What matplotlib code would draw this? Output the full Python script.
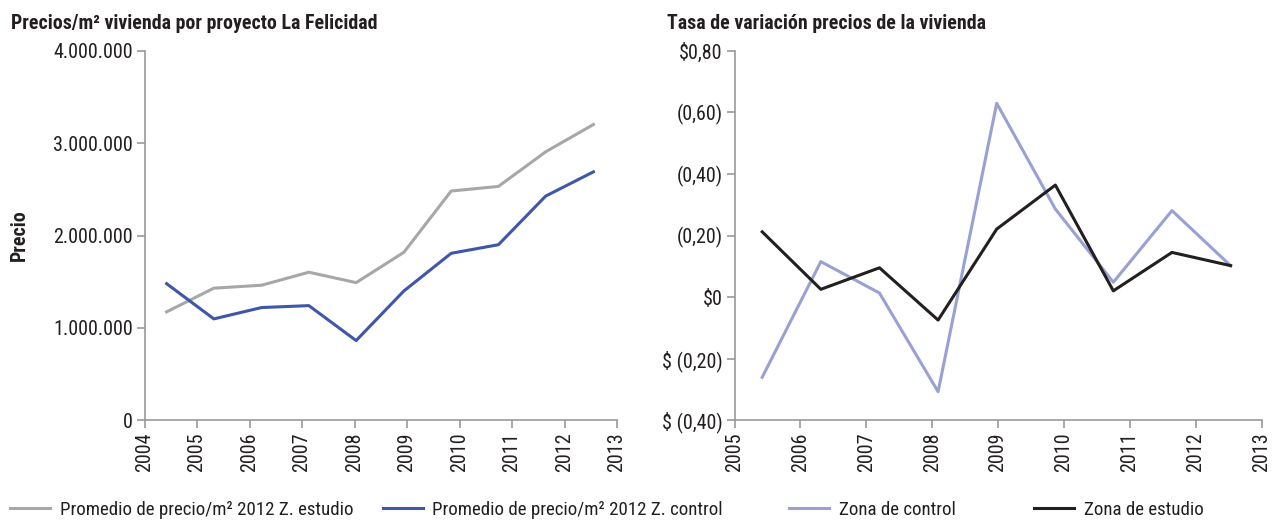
import matplotlib
matplotlib.use("Agg")
import matplotlib.pyplot as plt
from matplotlib.lines import Line2D
from matplotlib import font_manager

# buscar una fuente estrecha si existe
estrechas = [f for f in font_manager.fontManager.ttflist
             if 'Narrow' in f.name or 'Condensed' in f.name
             or f.stretch in ('condensed', 'semi-condensed', 'extra-condensed')]
nombres = [f.name for f in estrechas]
FUENTE = None
for pref in ['Liberation Sans Narrow', 'Roboto Condensed', 'Open Sans Condensed', 'Noto Sans', 'Roboto', 'Open Sans']:
    if pref in nombres:
        FUENTE = pref
        break
if FUENTE is None and nombres:
    FUENTE = nombres[0]

if FUENTE:
    plt.rcParams['font.family'] = [FUENTE, 'Liberation Sans', 'DejaVu Sans']
    cand = [f.stretch for f in estrechas if f.name == FUENTE]
    if 'Narrow' not in FUENTE and 'Condensed' not in FUENTE and cand:
        plt.rcParams['font.stretch'] = cand[0]
    TAM = 14.5
    TAM_L = 13.6
    TAM_T = 14.3
else:
    plt.rcParams['font.family'] = ['Liberation Sans', 'DejaVu Sans']
    TAM = 11.5
    TAM_L = 12
    TAM_T = 12

# Datos
anios_precio = [2004.42, 2005.32, 2006.23, 2007.13, 2008.03, 2008.94, 2009.84, 2010.74, 2011.64, 2012.55]
precio_estudio = [1172000, 1429000, 1461000, 1602000, 1489000, 1818000, 2482000, 2532000, 2907000, 3203000]
precio_control = [1478000, 1096000, 1219000, 1240000, 861000, 1399000, 1807000, 1900000, 2427000, 2690000]

anios_tasa = [2005.42, 2006.31, 2007.20, 2008.09, 2008.98, 2009.87, 2010.75, 2011.64, 2012.53]
tasa_control = [-0.261, 0.115, 0.013, -0.308, 0.630, 0.286, 0.048, 0.281, 0.102]
tasa_estudio = [0.212, 0.025, 0.095, -0.075, 0.221, 0.364, 0.020, 0.145, 0.102]

ticks_precio = [0, 1000000, 2000000, 3000000, 4000000]
etiquetas_precio = ['0', '1.000.000', '2.000.000', '3.000.000', '4.000.000']
ticks_tasa = [-0.4, -0.2, 0.0, 0.2, 0.4, 0.6, 0.8]
etiquetas_tasa = ['$ (0,40)', '$ (0,20)', '$0', '(0,20)', '(0,40)', '(0,60)', '$0,80']

GRIS = '#a7a7a7'
AZUL = '#3f57a8'
LILA = '#99a1d4'
NEGRO = '#231f20'
EJE = '#999999'
TEXTO = '#231f20'

fig = plt.figure(figsize=(12.77, 5.22), dpi=100)
ax1 = fig.add_axes([0.1132, 0.1954, 0.370, 0.7069])
ax2 = fig.add_axes([0.5752, 0.1954, 0.4127, 0.7069])


def estilo(ax):
    for s in ['top', 'right']:
        ax.spines[s].set_visible(False)
    for s in ['left', 'bottom']:
        ax.spines[s].set_color(EJE)
        ax.spines[s].set_linewidth(1.2)
    ax.tick_params(axis='both', colors=EJE, labelcolor=TEXTO, labelsize=TAM,
                   length=6, width=1.2, direction='out')
    ax.tick_params(axis='x', labelrotation=90, pad=3)
    ax.tick_params(axis='y', pad=2.5)


ax1.plot(anios_precio, precio_estudio, color=GRIS, lw=2.2)
ax1.plot(anios_precio, precio_control, color=AZUL, lw=2.2)
ax1.set_xlim(2004, 2013)
ax1.set_xticks(range(2004, 2014))
ax1.set_ylim(0, 4000000)
ax1.set_yticks(ticks_precio)
ax1.set_yticklabels(etiquetas_precio)
estilo(ax1)
ax1.set_ylabel('Precio', fontsize=TAM_T, fontweight='bold', color=TEXTO)
ax1.yaxis.set_label_coords(-0.245, 0.5)

ax2.plot(anios_tasa, tasa_control, color=LILA, lw=2.2)
ax2.plot(anios_tasa, tasa_estudio, color=NEGRO, lw=2.2)
ax2.set_xlim(2005, 2013)
ax2.set_xticks(range(2005, 2014))
ax2.set_ylim(-0.4, 0.8)
ax2.set_yticks(ticks_tasa)
ax2.set_yticklabels(etiquetas_tasa)
estilo(ax2)

fig.text(0.009, 0.955, 'Precios/m² vivienda por proyecto La Felicidad', fontsize=TAM_T,
         fontweight='bold', color=TEXTO, va='center', ha='left')
fig.text(0.522, 0.955, 'Tasa de variación precios de la vivienda', fontsize=TAM_T,
         fontweight='bold', color=TEXTO, va='center', ha='left')

# leyenda: cuatro entradas colocadas a mano
entradas = [
    (GRIS, 'Promedio de precio/m² 2012 Z. estudio', 0.002),
    (AZUL, 'Promedio de precio/m² 2012 Z. control', 0.294),
    (LILA, 'Zona de control', 0.612),
    (NEGRO, 'Zona de estudio', 0.804),
]
for color, texto, x in entradas:
    fig.legend(handles=[Line2D([0], [0], color=color, lw=2.2)], labels=[texto],
               loc='center left', bbox_to_anchor=(x, 0.023), frameon=False,
               fontsize=TAM_L, handlelength=40 / (TAM_L * 100 / 72), handletextpad=0.5,
               borderaxespad=0, labelcolor=TEXTO)

fig.savefig('out.png', dpi=100)
